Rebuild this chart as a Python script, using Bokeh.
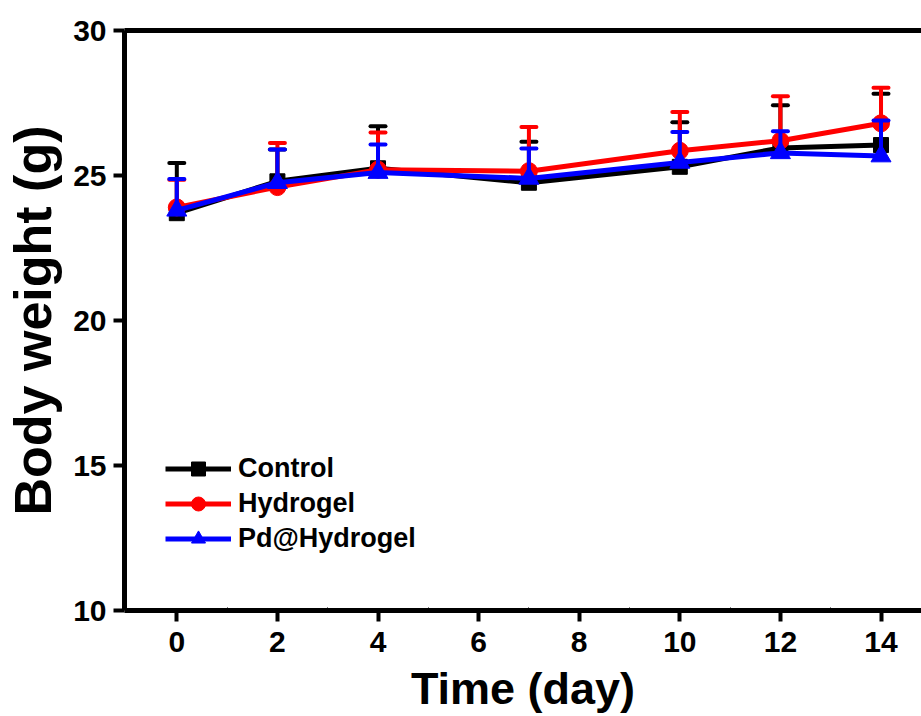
from bokeh.plotting import figure
from bokeh.models import (Range1d, FixedTicker, Legend, LegendItem, LinearAxis)
from bokeh.embed import file_html
from bokeh.resources import INLINE

days = [0, 2, 4, 7, 10, 12, 14]
control = [23.7, 24.8, 25.25, 24.75, 25.3, 25.95, 26.05]
control_err = [1.73, 1.1, 1.45, 1.41, 1.54, 1.47, 1.77]
hydrogel = [23.9, 24.6, 25.2, 25.15, 25.85, 26.2, 26.8]
hydrogel_err = [0.95, 1.52, 1.28, 1.52, 1.34, 1.53, 1.23]
pd_hydrogel = [23.8, 24.75, 25.1, 24.9, 25.45, 25.78, 25.67]
pd_hydrogel_err = [1.08, 1.15, 0.97, 1.03, 1.05, 0.75, 1.23]

x_ticks = [0, 2, 4, 6, 8, 10, 12, 14]
x_minor = [-1, 1, 3, 5, 7, 9, 11, 13]
y_ticks = [10, 15, 20, 25, 30]
y_minor = [12.5, 17.5, 22.5, 27.5]
x_lo, x_hi = -1.04, 14.805
y_lo, y_hi = 10, 30
x_title = "Time (day)"
y_title = "Body weight (g)"

FONT = "Liberation Sans, Arial, sans-serif"

p = figure(width=921, height=716, output_backend="svg", toolbar_location=None,
           x_range=Range1d(x_lo, x_hi), y_range=Range1d(y_lo, y_hi),
           min_border_left=124, min_border_right=0, min_border_top=30,
           min_border_bottom=105)
p.outline_line_color = None
p.xgrid.visible = False
p.ygrid.visible = False
p.background_fill_color = "white"

def style_axis(ax):
    ax.axis_line_width = 5
    ax.axis_line_color = "black"
    ax.major_tick_line_width = 4
    ax.major_tick_line_color = "black"
    ax.minor_tick_line_color = "black"
    ax.major_label_text_font = FONT
    ax.major_label_text_font_style = "bold"
    ax.major_label_text_font_size = "30px"
    ax.major_label_text_color = "black"
    ax.axis_label_text_font = FONT
    ax.axis_label_text_font_style = "bold"
    ax.axis_label_text_color = "black"

xa = p.xaxis[0]
style_axis(xa)
xa.ticker = FixedTicker(ticks=x_ticks, minor_ticks=x_minor)
xa.major_tick_in = 0
xa.major_tick_out = 11
xa.minor_tick_in = 3
xa.minor_tick_out = 0
xa.minor_tick_line_width = 1
xa.major_label_standoff = 10
xa.axis_label = x_title
xa.axis_label_text_font_size = "45px"
xa.axis_label_standoff = 8

ya = p.yaxis[0]
style_axis(ya)
ya.ticker = FixedTicker(ticks=y_ticks, minor_ticks=y_minor)
ya.major_tick_in = 0
ya.major_tick_out = 11
ya.minor_tick_in = 2
ya.minor_tick_out = 2
ya.minor_tick_line_width = 2
ya.major_label_standoff = 7
ya.axis_label = y_title
ya.axis_label_text_font_size = "52px"
ya.axis_label_standoff = 8

# top frame border (axis line only, no ticks or labels)
top = LinearAxis(ticker=FixedTicker(ticks=[], minor_ticks=[]))
top.axis_line_width = 5
top.axis_line_color = "black"
top.major_tick_in = 0
top.major_tick_out = 0
top.minor_tick_in = 0
top.minor_tick_out = 0
p.add_layout(top, "above")

series = [
    ("Control", control, control_err, "#000000", "square", 15),
    ("Hydrogel", hydrogel, hydrogel_err, "#ff0000", "circle", 17),
    ("Pd@Hydrogel", pd_hydrogel, pd_hydrogel_err, "#0000ff", "triangle", 20),
]

items = []
for name, vals, errs, col, mk, sz in series:
    upper = [v + e for v, e in zip(vals, errs)]
    p.segment(x0=days, y0=vals, x1=days, y1=upper, line_color=col, line_width=4)
    p.scatter(x=days, y=upper, marker="dash", size=15, line_color=col,
              line_width=4, line_cap="round")
    lr = p.line(x=days, y=vals, line_color=col, line_width=5)
    mr = p.scatter(x=days, y=vals, marker=mk, size=sz, fill_color=col, line_color=col)
    items.append(LegendItem(label=name, renderers=[lr, mr]))

legend = Legend(items=items, location=(41, 54), orientation="vertical",
                glyph_width=66, glyph_height=35, label_height=35,
                label_standoff=7, padding=0, margin=0, spacing=0,
                border_line_color=None, background_fill_alpha=0,
                label_text_font=FONT, label_text_font_style="bold",
                label_text_font_size="27px", label_text_color="black")
p.add_layout(legend)

open("out.html", "w").write(file_html(p, INLINE))
